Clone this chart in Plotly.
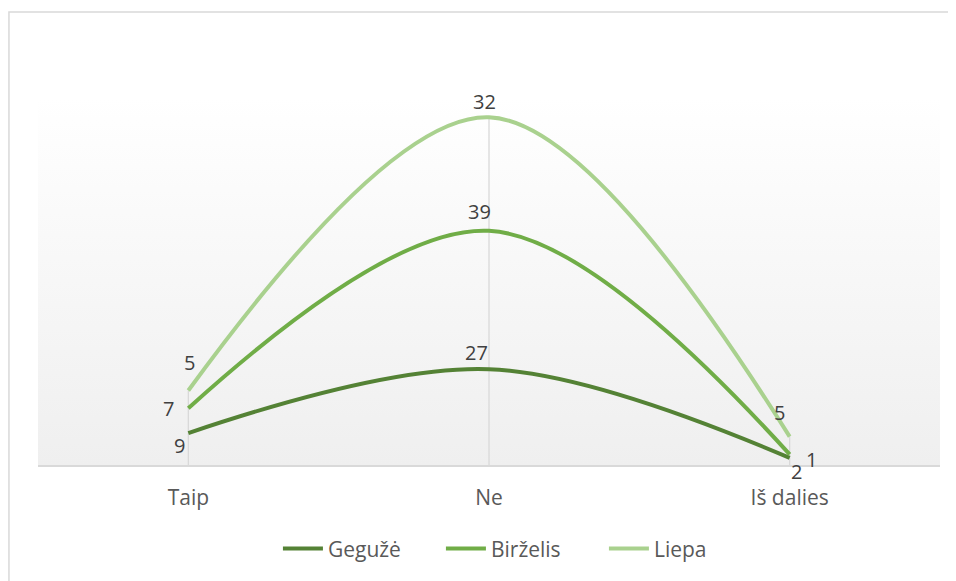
import base64
import plotly.graph_objects as go

categories = ["Taip", "Ne", "Iš dalies"]
series_names = ["Gegužė", "Birželis", "Liepa"]
geguze = [9, 27, 2]
birzelis = [7, 39, 1]
liepa = [5, 32, 5]
colors = ["#548235", "#70AD47", "#A9D18E"]

values = [geguze, birzelis, liepa]
# stacked line chart
stacked = []
run = [0, 0, 0]
for v in values:
    run = [a + b for a, b in zip(run, v)]
    stacked.append(run)

# label offsets (px) per series per category: (xshift, yshift)
label_shift = [
    [(-9, -12), (-13, 17), (7, -14)],
    [(-20, 0), (-10, 19), (22, -5)],
    [(1, 28), (-5, 16), (-10, 24)],
]

fig = go.Figure()
x = list(range(len(categories)))

# drop lines from the highest point of each category down to the axis
drop_x, drop_y = [], []
for ci in x:
    drop_x += [ci, ci, None]
    drop_y += [0, stacked[-1][ci], None]
fig.add_trace(go.Scatter(x=drop_x, y=drop_y, mode="lines", showlegend=False,
                         line=dict(color="#d9d9d9", width=1.3), hoverinfo="skip"))

for name, ys, c in zip(series_names, stacked, colors):
    fig.add_trace(go.Scatter(
        x=x, y=ys, name=name, mode="lines",
        line=dict(color=c, width=4, shape="spline", smoothing=1.0),
        hoverinfo="skip",
    ))

annotations = []
for si, (vals, ys) in enumerate(zip(values, stacked)):
    for ci in range(len(categories)):
        dx, dy = label_shift[si][ci]
        annotations.append(dict(
            x=ci, y=ys[ci], xref="x", yref="y", text=str(vals[ci]),
            showarrow=False, xshift=dx, yshift=dy,
            font=dict(family="Open Sans", size=20, color="#404040"),
        ))

svg = ('<svg xmlns="http://www.w3.org/2000/svg" width="100" height="100" preserveAspectRatio="none">'
       '<defs><linearGradient id="g" x1="0" y1="0" x2="0" y2="1">'
       '<stop offset="0" stop-color="#ffffff"/><stop offset="1" stop-color="#efefef"/>'
       '</linearGradient></defs><rect width="100" height="100" fill="url(#g)"/></svg>')
src = "data:image/svg+xml;base64," + base64.b64encode(svg.encode()).decode()

fig.update_layout(
    width=948, height=573,
    margin=dict(l=30, r=16, t=89, b=116),
    paper_bgcolor="white",
    plot_bgcolor="rgba(0,0,0,0)",
    font=dict(family="Open Sans", color="#595959", size=21),
    showlegend=True,
    legend=dict(orientation="h", x=0.266, xanchor="left", y=-0.228, yanchor="middle",
                font=dict(family="Open Sans", size=21, color="#595959"),
                entrywidth=108, entrywidthmode="pixels", itemwidth=40),
    annotations=annotations,
    images=[dict(source=src, xref="paper", yref="paper", x=0, y=1, sizex=1, sizey=1,
                 xanchor="left", yanchor="top", sizing="stretch", layer="below")],
    shapes=[dict(type="rect", xref="paper", yref="paper", x0=-0.0322, x1=1.2,
                 y0=-0.6, y1=1.231, line=dict(color="#d9d9d9", width=1.5),
                 fillcolor="rgba(0,0,0,0)", layer="below")],
)
fig.update_xaxes(
    range=[-0.5, 2.5], tickvals=x, ticktext=categories,
    showgrid=False,
    showline=True, linecolor="#d9d9d9", linewidth=1.5,
    ticks="", ticklabelstandoff=13, zeroline=False,
    tickfont=dict(family="Open Sans", size=21, color="#595959"),
)
fig.update_yaxes(range=[0, 103.7], visible=False, showgrid=False, zeroline=False)

fig.write_html("out.html")
